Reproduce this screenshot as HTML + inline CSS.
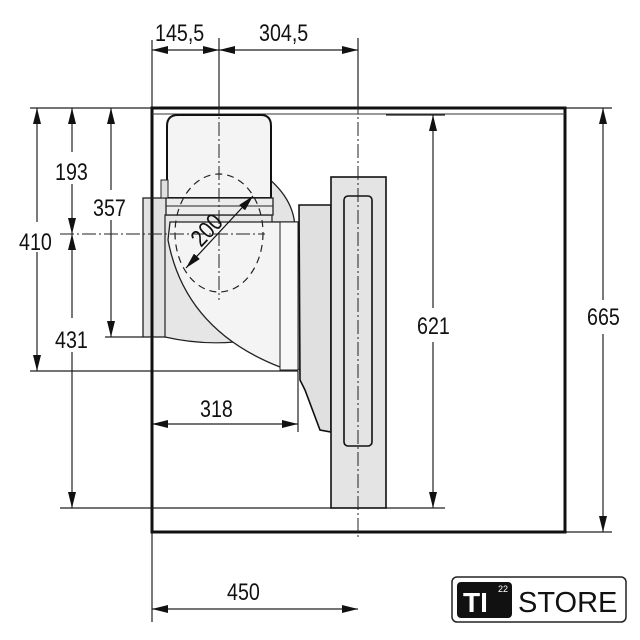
<!DOCTYPE html>
<html><head><meta charset="utf-8"><style>
html,body{margin:0;padding:0;background:#fff;}
svg{display:block;}
text{font-family:"Liberation Sans",sans-serif;font-size:24px;fill:#111;}
</style></head><body>
<svg width="640" height="640" viewBox="0 0 640 640" xmlns="http://www.w3.org/2000/svg">
<defs>
<marker id="a" viewBox="0 0 16 8" refX="16" refY="4" markerWidth="16" markerHeight="8" orient="auto-start-reverse" markerUnits="userSpaceOnUse"><path d="M0,0 L16,4 L0,8 Z" fill="#111"/></marker>
</defs>
<g stroke="#222" stroke-width="1.2" fill="none">
<line x1="152" y1="40" x2="152" y2="108"/>
<line x1="219" y1="38" x2="219" y2="108"/>
<line x1="358" y1="38" x2="358" y2="108"/>
<line x1="30" y1="108" x2="152" y2="108"/>
<line x1="30" y1="371" x2="298" y2="371"/>
<line x1="105" y1="337" x2="143" y2="337"/>
<line x1="60" y1="508" x2="331" y2="508"/>
<line x1="386" y1="508" x2="445" y2="508"/>
<line x1="565" y1="108" x2="612" y2="108"/>
<line x1="565" y1="532" x2="612" y2="532"/>
<line x1="386" y1="115" x2="445" y2="115"/>
<line x1="152" y1="532" x2="152" y2="622"/>
<line x1="298" y1="371" x2="298" y2="432"/>
<line x1="152" y1="50" x2="219" y2="50" marker-start="url(#a)" marker-end="url(#a)"/>
<line x1="219" y1="50" x2="358" y2="50" marker-start="url(#a)" marker-end="url(#a)"/>
<line x1="37" y1="108" x2="37" y2="371" marker-start="url(#a)" marker-end="url(#a)"/>
<line x1="72" y1="108" x2="72" y2="234" marker-start="url(#a)" marker-end="url(#a)"/>
<line x1="72" y1="234" x2="72" y2="508" marker-start="url(#a)" marker-end="url(#a)"/>
<line x1="111" y1="108" x2="111" y2="337" marker-start="url(#a)" marker-end="url(#a)"/>
<line x1="433" y1="115" x2="433" y2="508" marker-start="url(#a)" marker-end="url(#a)"/>
<line x1="603" y1="108" x2="603" y2="532" marker-start="url(#a)" marker-end="url(#a)"/>
<line x1="152" y1="424" x2="298" y2="424" marker-start="url(#a)" marker-end="url(#a)"/>
<line x1="152" y1="609" x2="358" y2="609" marker-start="url(#a)" marker-end="url(#a)"/>
</g>
<g fill="#fff">
<rect x="58" y="152" width="30" height="32"/><rect x="20" y="222" width="34" height="30"/>
<rect x="58" y="318" width="30" height="34"/><rect x="95" y="190" width="35" height="30"/>
<rect x="416" y="308" width="34" height="34"/><rect x="586" y="300" width="34" height="34"/>
</g>
<rect x="152" y="108" width="413" height="424" fill="none" stroke="#111" stroke-width="3"/>
<line x1="152" y1="114" x2="565" y2="114" stroke="#333" stroke-width="1"/>
<!-- left duct -->
<rect x="143" y="198" width="27" height="139" fill="#e2e2e2" stroke="#222" stroke-width="1.3"/>
<line x1="152" y1="198" x2="152" y2="337" stroke="#111" stroke-width="3"/>
<!-- back bump -->
<path d="M268,178 Q300,205 294,240 L270,240 Z" fill="#e4e4e4" stroke="#222" stroke-width="1.3"/>
<!-- scroll -->
<path d="M165,215 L165,337 Q200,345 235,342 Q262,362 300,370 L300,222 L272,222 L272,215 Z" fill="#e6e6e6" stroke="#222" stroke-width="1.2"/>
<path d="M168,240 Q185,330 280,367 L298,369 L298,222 L170,222 Z" fill="#f4f4f4" stroke="#222" stroke-width="1.3"/>
<rect x="280" y="222" width="18" height="148" fill="#f7f7f7" stroke="#222" stroke-width="1"/>
<!-- fan body -->
<path d="M167,198 L167,126 Q167,115 178,115 L261,115 Q271,115 271,126 L271,198 Z" fill="#f4f4f4" stroke="#111" stroke-width="2"/>
<rect x="161" y="180" width="7" height="18" fill="#e0e0e0" stroke="#222"/>
<rect x="166" y="198" width="107" height="17" fill="#ececec" stroke="#222" stroke-width="1.3"/>
<line x1="166" y1="206" x2="273" y2="206" stroke="#222" stroke-width="1"/>
<!-- middle piece -->
<path d="M299,205 L331,205 L331,432 L320,430 L305,390 L300,380 Z" fill="#e0e0e0" stroke="#111" stroke-width="1.6"/>
<!-- right panel -->
<rect x="331" y="177" width="55" height="331" fill="#e4e4e4" stroke="#111" stroke-width="1.6"/>
<rect x="344" y="196" width="28" height="250" rx="4" fill="#e4e4e4" stroke="#111" stroke-width="1.6"/>
<ellipse cx="219" cy="233" rx="44" ry="59" fill="none" stroke="#222" stroke-width="1.2" stroke-dasharray="7,5"/>
<g stroke="#222" stroke-width="1" stroke-dasharray="14,3,2,3">
<line x1="219" y1="100" x2="219" y2="300"/>
<line x1="358" y1="100" x2="358" y2="540"/>
<line x1="60" y1="234" x2="265" y2="234"/>
</g>
<line x1="186" y1="268" x2="253" y2="196" stroke="#111" stroke-width="1.2" marker-start="url(#a)" marker-end="url(#a)"/>
<!-- labels -->
<text transform="translate(155,41) scale(0.82,1)">145,5</text>
<text transform="translate(259,41) scale(0.82,1)">304,5</text>
<text transform="translate(55,180) scale(0.82,1)">193</text>
<text transform="translate(19,250) scale(0.82,1)">410</text>
<text transform="translate(93,216) scale(0.82,1)">357</text>
<text transform="translate(55,348) scale(0.82,1)">431</text>
<text transform="translate(200,417) scale(0.82,1)">318</text>
<text transform="translate(227,600) scale(0.82,1)">450</text>
<text transform="translate(417,334) scale(0.82,1)">621</text>
<text transform="translate(587,325) scale(0.82,1)">665</text>
<text transform="translate(201,248) rotate(-47) scale(0.85,1)">200</text>
<!-- logo -->
<rect x="452" y="577" width="174" height="45" rx="5" fill="#fff" stroke="#222" stroke-width="1.5"/>
<rect x="457" y="582" width="55" height="36" rx="4" fill="#111"/>
<text x="463" y="612" style="font-size:28px;font-weight:bold;fill:#fff">TI</text>
<text x="498" y="592" style="font-size:9px;fill:#fff">22</text>
<text x="518" y="612" style="font-size:29px">STORE</text>
</svg>
</body></html>
